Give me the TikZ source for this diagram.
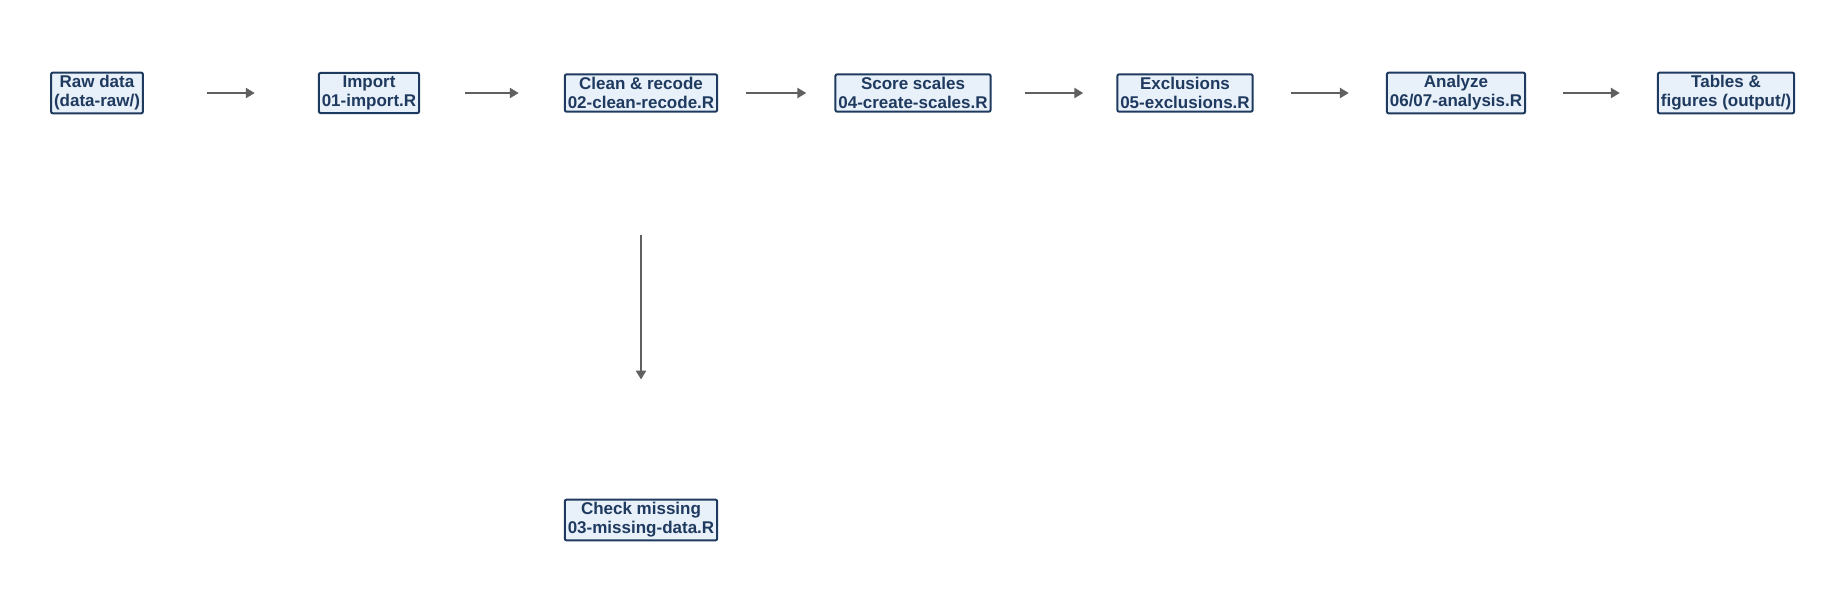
\documentclass[tikz,border=0pt]{standalone}
\usepackage{fontspec}
\setmainfont{Liberation Sans}
\usetikzlibrary{arrows.meta}
\definecolor{boxline}{HTML}{1F3A5F}
\definecolor{boxfill}{HTML}{E8F0FA}
\definecolor{arrowgray}{HTML}{606060}
\tikzset{
  stage/.style={draw=boxline, fill=boxfill, line width=2pt, rounded corners=2pt,
    text=boxline, font=\fontsize{17}{19}\selectfont\bfseries, align=center,
    inner xsep=3pt, inner ysep=3pt},
  flow/.style={draw=arrowgray, line width=2.5pt, -{Triangle[length=9pt,width=10pt]}}
}
\begin{document}
\begin{tikzpicture}[x=1pt,y=1pt]
\useasboundingbox (0,0) rectangle (1824,-614);
\node[stage] (raw) at (97,-93) {Raw data\\(data-raw/)};
\node[stage] (import) at (369,-93) {Import\\01-import.R};
\node[stage] (clean) at (641,-93) {Clean \& recode\\02-clean-recode.R};
\node[stage] (score) at (913,-93) {Score scales\\04-create-scales.R};
\node[stage] (excl) at (1185,-93) {Exclusions\\05-exclusions.R};
\node[stage] (analyze) at (1456,-93) {Analyze\\06/07-analysis.R};
\node[stage] (tables) at (1726,-93) {Tables \&\\figures (output/)};
\node[stage] (missing) at (641,-520) {Check missing\\03-missing-data.R};
% short arrows in the gaps
\foreach \a/\b/\s in {raw/import/63, import/clean/45, clean/score/28,
    score/excl/33, excl/analyze/37, analyze/tables/37}
  \draw[flow, shorten <=\s pt, shorten >=\s pt] (\a.east) -- (\b.west);
\draw[flow, shorten <=122pt, shorten >=119pt] (clean.south) -- (missing.north);
\end{tikzpicture}
\end{document}
